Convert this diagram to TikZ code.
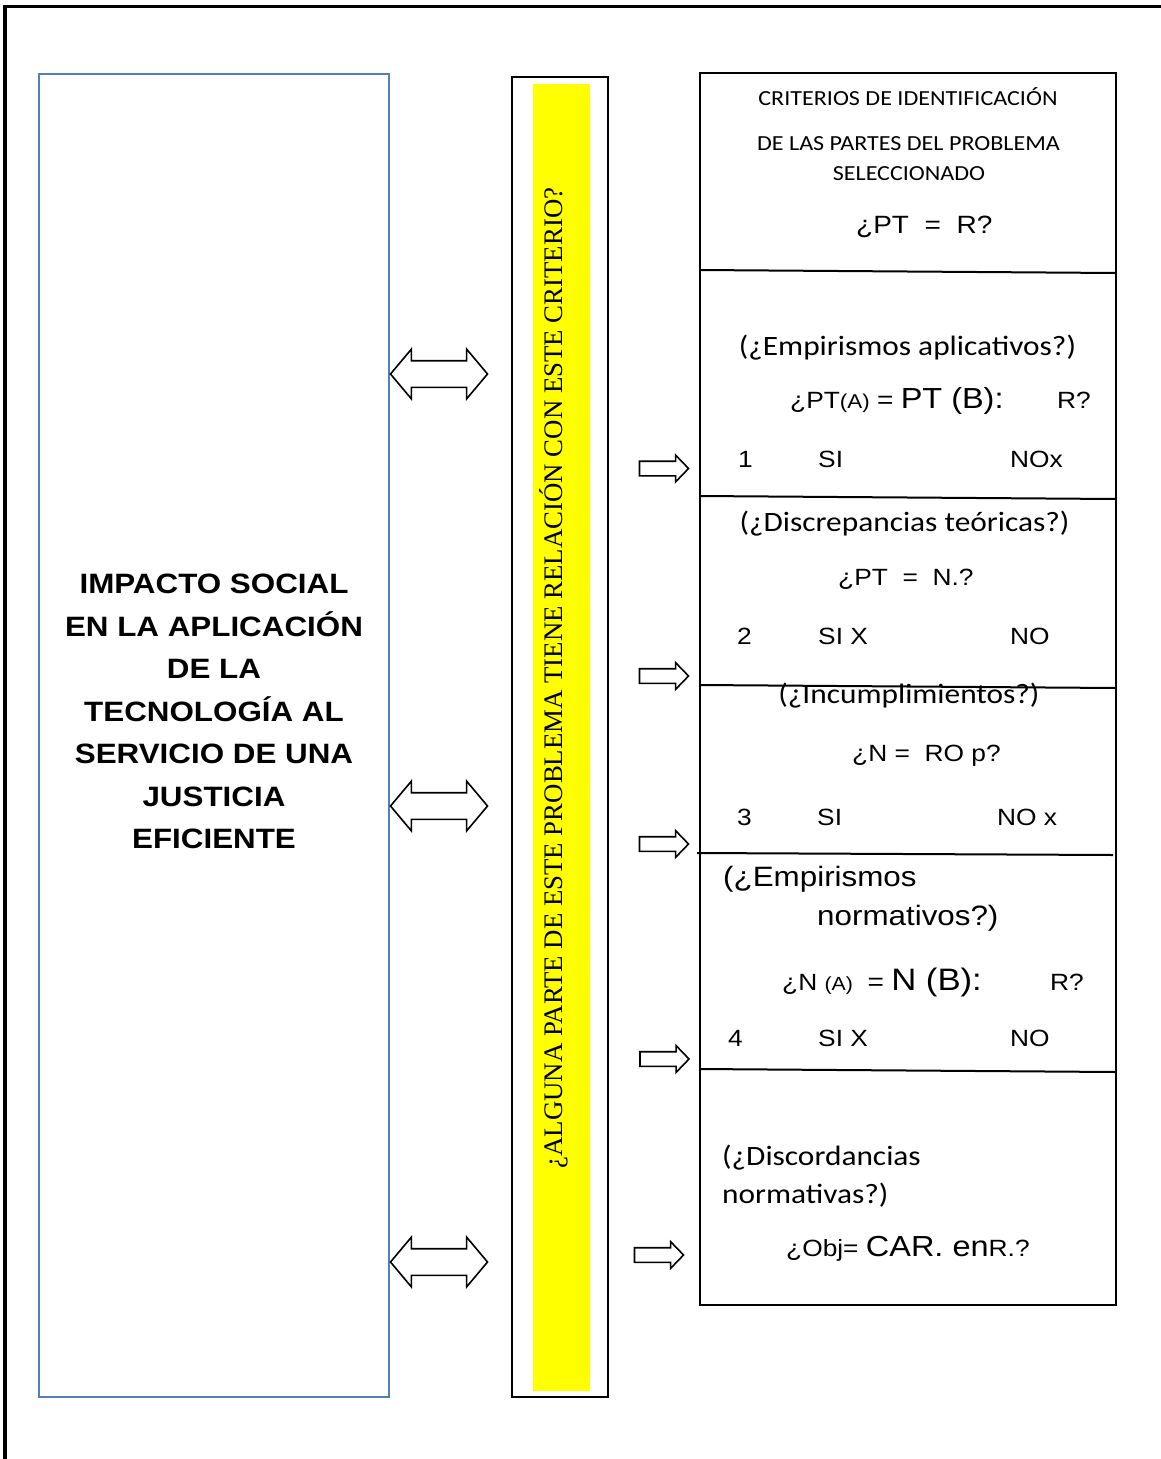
\documentclass[tikz,border=0pt]{standalone}
\usepackage{fontspec}
\setmainfont{Liberation Sans}[FakeStretch=1.12]
\newfontfamily\carlito{Carlito}[FakeStretch=1.12]
\newfontfamily\timesserif{Liberation Serif}
\usetikzlibrary{shapes.arrows}

\definecolor{impactblue}{RGB}{79,129,189}
\definecolor{baryellow}{RGB}{255,255,0}

\tikzset{
    twoway/.style={double arrow, draw, line width=1.6pt, minimum height=97, minimum width=48,
        inner sep=12.5, double arrow head extend=11.5, double arrow tip angle=100},
    oneway/.style={single arrow, draw, line width=1.6pt, minimum height=49, minimum width=25,
        inner sep=6.5, single arrow head extend=6, single arrow tip angle=92},
    title/.style={font=\carlito\fontsize{21.5}{26}\selectfont, anchor=base, inner sep=0},
    heading/.style={font=\carlito\fontsize{28}{34}\selectfont, anchor=base, inner sep=0},
    entry/.style={font=\fontsize{23.5}{28}\selectfont, anchor=base west, inner sep=0},
    divider/.style={line width=2pt}
}

\begin{document}
\begin{tikzpicture}[x=1pt,y=-1pt]
    \useasboundingbox (0,0) rectangle (1161,1459);
    % page frame
    \draw[line width=3.5pt] (5,1470) -- (5,6.5) -- (1170,6.5);

    % impact box
    \draw[draw=impactblue, line width=2.5pt] (39,74) rectangle (389,1397);
    \node[font=\bfseries\fontsize{28}{42.5}\selectfont, align=center] (impact) at (214,711.5)
        {IMPACTO SOCIAL\\EN LA APLICACIÓN\\DE LA\\TECNOLOGÍA AL\\SERVICIO DE UNA\\JUSTICIA\\EFICIENTE};

    % question bar
    \draw[line width=2pt] (512,77) rectangle (608,1397);
    \fill[baryellow] (533,84) rectangle (590,1391);
    \node[font=\timesserif\fontsize{26.8}{32}\selectfont, rotate=90, anchor=base, inner sep=0] (question) at (562,678)
        {¿ALGUNA PARTE DE ESTE PROBLEMA TIENE RELACIÓN CON ESTE CRITERIO?};

    % criteria box
    \draw[line width=2pt] (700,73) rectangle (1116,1305);
    \draw[divider] (700,270) -- (1116,273);
    \draw[divider] (700,496) -- (1116,499);
    \draw[divider] (700,685) -- (1116,688);
    \draw[divider] (697,853) -- (1113,855);
    \draw[divider] (700,1069) -- (1116,1072);

    % arrows
    \node[twoway] (link1) at (439,374) {};
    \node[twoway] (link2) at (439,806) {};
    \node[twoway] (link3) at (439,1262) {};
    \node[oneway] (point1) at (660.5,468.5) {};
    \node[oneway] (point2) at (660.5,676) {};
    \node[oneway] (point3) at (660.5,844) {};
    \node[oneway] (point4) at (661,1059) {};
    \node[oneway] (point5) at (655.5,1255) {};

    % title
    \node[title] (title1) at (908,105.7) {CRITERIOS DE IDENTIFICACIÓN};
    \node[title] (title2) at (908.5,150.7) {DE LAS PARTES DEL PROBLEMA};
    \node[title] (title3) at (909,180.7) {SELECCIONADO};
    \node[entry, font=\fontsize{25}{30}\selectfont] (rule0) at (856,233.3) {¿PT\ \ =\ \ R?};

    % empirismos aplicativos
    \node[heading] (head1) at (907.5,355) {(¿Empirismos aplicativos?)};
    \node[entry] (rule1) at (790,408.3)
        {¿PT{\fontsize{20}{24}\selectfont(A)} {\fontsize{25}{30}\selectfont=} {\fontsize{29}{34}\selectfont PT (B):}};
    \node[entry] (res1) at (1057,408.3) {R?};
    \node[entry] (num1) at (738,467.3) {1};
    \node[entry] (yes1) at (818,467.3) {SI};
    \node[entry] (no1) at (1010,467.3) {NOx};

    % discrepancias teoricas
    \node[heading] (head2) at (904.5,531.7) {(¿Discrepancias teóricas?)};
    \node[entry] (rule2) at (838,585) {¿PT\ \ =\ \ N.?};
    \node[entry] (num2) at (737,644) {2};
    \node[entry] (yes2) at (818,644) {SI X};
    \node[entry] (no2) at (1010,644) {NO};

    % incumplimientos
    \node[heading] (head3) at (909,703.3) {(¿Incumplimientos?)};
    \node[entry] (rule3) at (852,761.7) {¿N =\ \ RO p?};
    \node[entry] (num3) at (737,825) {3};
    \node[entry] (yes3) at (817,825) {SI};
    \node[entry] (no3) at (997,825) {NO x};

    % empirismos normativos
    \node[entry, font=\fontsize{28}{34}\selectfont] (head4a) at (723,886.7) {(¿Empirismos};
    \node[entry, font=\fontsize{28}{34}\selectfont] (head4b) at (817,925) {normativos?)};
    \node[entry] (rule4) at (782,990)
        {¿N {\fontsize{19}{23}\selectfont(A)}\ \ {\fontsize{25}{30}\selectfont=} {\fontsize{31}{36}\selectfont N (B):}};
    \node[entry] (res4) at (1050,990) {R?};
    \node[entry] (num4) at (728,1046.7) {4};
    \node[entry] (yes4) at (818,1046.7) {SI X};
    \node[entry] (no4) at (1010,1046.7) {NO};

    % discordancias normativas
    \node[heading, anchor=base west] (head5a) at (722,1165) {(¿Discordancias};
    \node[heading, anchor=base west] (head5b) at (722,1203) {normativas?)};
    \node[entry, font=\fontsize{23.5}{28}\selectfont] (rule5) at (786,1256.7)
        {¿Obj= {\fontsize{29}{34}\selectfont CAR. en}R.?};
\end{tikzpicture}
\end{document}
